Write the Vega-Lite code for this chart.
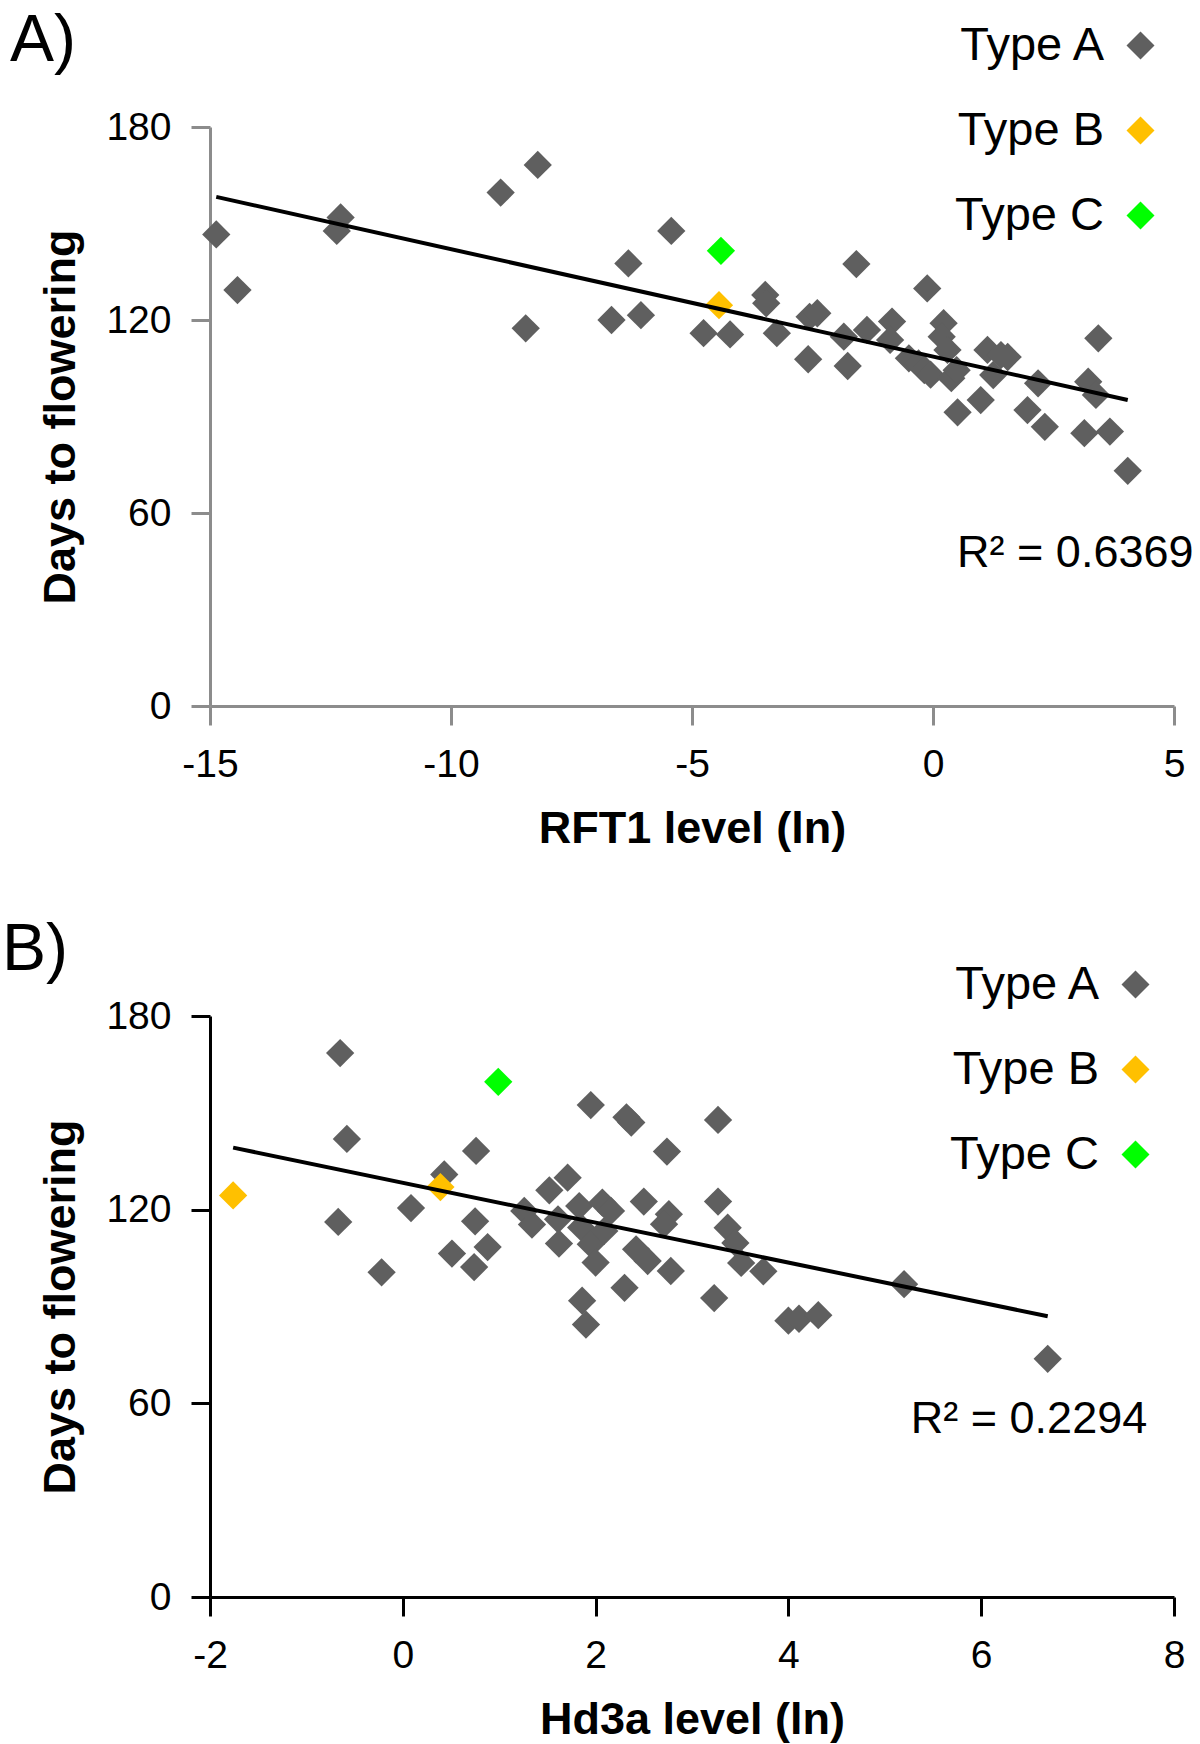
{
  "$schema": "https://vega.github.io/schema/vega-lite/v6.json",
  "background": "white",
  "padding": {"left": 2, "top": 8, "right": 5, "bottom": 2},
  "bounds": "flush",
  "spacing": 310,
  "config": {"font": "Liberation Sans", "view": {"stroke": null}},
  "resolve": {"scale": {"color": "independent"}, "legend": {"color": "independent"}},
  "datasets": {
    "a": [
      {"level": -14.87, "days": 146.6, "type": "Type A"},
      {"level": -14.43, "days": 129.3, "type": "Type A"},
      {"level": -12.29, "days": 151.9, "type": "Type A"},
      {"level": -12.37, "days": 147.7, "type": "Type A"},
      {"level": -8.97, "days": 159.6, "type": "Type A"},
      {"level": -8.2, "days": 168.2, "type": "Type A"},
      {"level": -8.45, "days": 117.4, "type": "Type A"},
      {"level": -5.43, "days": 147.7, "type": "Type A"},
      {"level": -6.32, "days": 137.6, "type": "Type A"},
      {"level": -6.67, "days": 120.0, "type": "Type A"},
      {"level": -6.06, "days": 121.5, "type": "Type A"},
      {"level": -4.76, "days": 115.9, "type": "Type A"},
      {"level": -4.21, "days": 115.5, "type": "Type A"},
      {"level": -3.48, "days": 127.8, "type": "Type A"},
      {"level": -3.46, "days": 125.2, "type": "Type A"},
      {"level": -3.24, "days": 115.9, "type": "Type A"},
      {"level": -2.59, "days": 107.8, "type": "Type A"},
      {"level": -2.56, "days": 121.0, "type": "Type A"},
      {"level": -2.4, "days": 122.1, "type": "Type A"},
      {"level": -1.77, "days": 105.7, "type": "Type A"},
      {"level": -1.85, "days": 114.8, "type": "Type A"},
      {"level": -1.59, "days": 137.4, "type": "Type A"},
      {"level": -1.37, "days": 116.9, "type": "Type A"},
      {"level": -0.85, "days": 119.5, "type": "Type A"},
      {"level": -0.89, "days": 113.8, "type": "Type A"},
      {"level": -0.5, "days": 108.1, "type": "Type A"},
      {"level": -0.3, "days": 106.5, "type": "Type A"},
      {"level": -0.12, "days": 129.8, "type": "Type A"},
      {"level": -0.18, "days": 104.4, "type": "Type A"},
      {"level": -0.05, "days": 103.0, "type": "Type A"},
      {"level": 0.22, "days": 119.0, "type": "Type A"},
      {"level": 0.18, "days": 114.8, "type": "Type A"},
      {"level": 0.3, "days": 110.7, "type": "Type A"},
      {"level": 0.38, "days": 101.9, "type": "Type A"},
      {"level": 0.49, "days": 104.4, "type": "Type A"},
      {"level": 0.51, "days": 91.3, "type": "Type A"},
      {"level": 1.13, "days": 110.7, "type": "Type A"},
      {"level": 1.41, "days": 109.1, "type": "Type A"},
      {"level": 1.55, "days": 108.5, "type": "Type A"},
      {"level": 1.25, "days": 102.9, "type": "Type A"},
      {"level": 0.99, "days": 95.1, "type": "Type A"},
      {"level": 1.96, "days": 92.0, "type": "Type A"},
      {"level": 2.18, "days": 100.3, "type": "Type A"},
      {"level": 2.32, "days": 86.8, "type": "Type A"},
      {"level": 3.22, "days": 100.8, "type": "Type A"},
      {"level": 3.38, "days": 96.7, "type": "Type A"},
      {"level": 3.14, "days": 84.8, "type": "Type A"},
      {"level": 3.67, "days": 85.3, "type": "Type A"},
      {"level": 3.43, "days": 114.3, "type": "Type A"},
      {"level": 4.04, "days": 73.1, "type": "Type A"},
      {"level": -4.44, "days": 124.6, "type": "Type B"},
      {"level": -4.4, "days": 141.5, "type": "Type C"}
    ],
    "b": [
      {"level": -0.65, "days": 168.5, "type": "Type A"},
      {"level": -0.58, "days": 141.9, "type": "Type A"},
      {"level": -0.67, "days": 116.2, "type": "Type A"},
      {"level": -0.22, "days": 100.6, "type": "Type A"},
      {"level": 0.085, "days": 120.5, "type": "Type A"},
      {"level": 0.43, "days": 130.9, "type": "Type A"},
      {"level": 0.76, "days": 138.2, "type": "Type A"},
      {"level": 0.75, "days": 116.4, "type": "Type A"},
      {"level": 0.51, "days": 106.4, "type": "Type A"},
      {"level": 0.88, "days": 108.4, "type": "Type A"},
      {"level": 0.74, "days": 102.2, "type": "Type A"},
      {"level": 1.95, "days": 152.4, "type": "Type A"},
      {"level": 2.32, "days": 148.6, "type": "Type A"},
      {"level": 2.37, "days": 147.0, "type": "Type A"},
      {"level": 2.74, "days": 138.0, "type": "Type A"},
      {"level": 1.71, "days": 129.9, "type": "Type A"},
      {"level": 1.52, "days": 126.0, "type": "Type A"},
      {"level": 1.26, "days": 119.6, "type": "Type A"},
      {"level": 1.34, "days": 115.4, "type": "Type A"},
      {"level": 1.61, "days": 117.0, "type": "Type A"},
      {"level": 1.83, "days": 121.1, "type": "Type A"},
      {"level": 2.07, "days": 122.2, "type": "Type A"},
      {"level": 2.16, "days": 119.6, "type": "Type A"},
      {"level": 2.5, "days": 122.5, "type": "Type A"},
      {"level": 2.76, "days": 118.6, "type": "Type A"},
      {"level": 2.71, "days": 115.5, "type": "Type A"},
      {"level": 1.62, "days": 109.5, "type": "Type A"},
      {"level": 1.85, "days": 114.5, "type": "Type A"},
      {"level": 1.95, "days": 109.3, "type": "Type A"},
      {"level": 2.09, "days": 113.4, "type": "Type A"},
      {"level": 2.0, "days": 103.6, "type": "Type A"},
      {"level": 2.42, "days": 107.7, "type": "Type A"},
      {"level": 2.54, "days": 104.1, "type": "Type A"},
      {"level": 2.78, "days": 101.0, "type": "Type A"},
      {"level": 2.3, "days": 95.8, "type": "Type A"},
      {"level": 1.86, "days": 91.8, "type": "Type A"},
      {"level": 1.9, "days": 84.4, "type": "Type A"},
      {"level": 3.27, "days": 147.8, "type": "Type A"},
      {"level": 3.27, "days": 122.5, "type": "Type A"},
      {"level": 3.37, "days": 114.4, "type": "Type A"},
      {"level": 3.45, "days": 109.7, "type": "Type A"},
      {"level": 3.51, "days": 103.5, "type": "Type A"},
      {"level": 3.74, "days": 100.9, "type": "Type A"},
      {"level": 3.23, "days": 92.6, "type": "Type A"},
      {"level": 4.0, "days": 85.6, "type": "Type A"},
      {"level": 4.11, "days": 86.2, "type": "Type A"},
      {"level": 4.31, "days": 87.3, "type": "Type A"},
      {"level": 5.2, "days": 96.9, "type": "Type A"},
      {"level": 6.69, "days": 73.8, "type": "Type A"},
      {"level": -1.76, "days": 124.4, "type": "Type B"},
      {"level": 0.39, "days": 127.0, "type": "Type B"},
      {"level": 0.99, "days": 159.6, "type": "Type C"}
    ]
  },
  "vconcat": [
    {
      "width": 964,
      "height": 579,
      "title": {"text": "A)", "anchor": "start", "frame": "group", "fontSize": 66, "fontWeight": "normal", "color": "black", "dx": -200, "dy": 80, "offset": 27},
      "data": {"name": "a"},
      "layer": [
        {
          "mark": {"type": "point", "shape": "diamond", "filled": true, "size": 800, "opacity": 1},
          "encoding": {
            "x": {"field": "level", "type": "quantitative", "scale": {"domain": [-15, 5], "nice": false, "zero": false},
              "axis": {"title": "RFT1 level (ln)", "values": [-15, -10, -5, 0, 5], "grid": false, "domainColor": "#8c8c8c", "domainWidth": 3, "tickColor": "#8c8c8c", "tickWidth": 3, "tickSize": 19, "labelFontSize": 39, "labelPadding": 20, "labelFlush": false, "labelColor": "black", "labelExpr": "datum.value < 0 ? '-' + abs(datum.value) : '' + datum.value", "titleFontSize": 45, "titleFontWeight": "bold", "titleColor": "black", "titlePadding": 22}},
            "y": {"field": "days", "type": "quantitative", "scale": {"domain": [0, 180], "nice": false},
              "axis": {"title": "Days to flowering", "values": [0, 60, 120, 180], "grid": false, "domainColor": "#8c8c8c", "domainWidth": 3, "tickColor": "#8c8c8c", "tickWidth": 3, "tickSize": 19, "labelFontSize": 39, "labelPadding": 20, "labelFlush": false, "labelColor": "black", "titleFontSize": 45, "titleFontWeight": "bold", "titleColor": "black", "titlePadding": 22}},
            "color": {"field": "type", "type": "nominal",
              "scale": {"domain": ["Type A", "Type B", "Type C"], "range": ["#5f5f5f", "#ffc000", "#00ff00"]},
              "legend": {"title": null, "orient": "none", "legendX": 907, "legendY": -105, "direction": "vertical", "symbolType": "diamond", "symbolSize": 784, "symbolStrokeWidth": 0, "symbolOpacity": 1, "labelFontSize": 47, "labelColor": "black", "labelAlign": "right", "labelOffset": -60, "rowPadding": 37, "padding": 0, "labelLimit": 0}}
          }
        },
        {
          "transform": [{"regression": "days", "on": "level"}],
          "mark": {"type": "line", "color": "black", "strokeWidth": 4},
          "encoding": {
            "x": {"field": "level", "type": "quantitative"},
            "y": {"field": "days", "type": "quantitative"}
          }
        },
        {
          "data": {"values": [{}]},
          "mark": {"type": "text", "align": "left", "baseline": "middle", "fontSize": 45, "color": "black"},
          "encoding": {
            "x": {"datum": 0.5},
            "y": {"datum": 47.6},
            "text": {"value": "R² = 0.6369"}
          }
        }
      ]
    },
    {
      "width": 964,
      "height": 581,
      "title": {"text": "B)", "anchor": "start", "frame": "group", "fontSize": 66, "fontWeight": "normal", "color": "black", "dx": -208, "dy": 32, "offset": 9},
      "data": {"name": "b"},
      "layer": [
        {
          "mark": {"type": "point", "shape": "diamond", "filled": true, "size": 800, "opacity": 1},
          "encoding": {
            "x": {"field": "level", "type": "quantitative", "scale": {"domain": [-2, 8], "nice": false, "zero": false},
              "axis": {"title": "Hd3a level (ln)", "values": [-2, 0, 2, 4, 6, 8], "grid": false, "domainColor": "black", "domainWidth": 3, "tickColor": "black", "tickWidth": 3, "tickSize": 19, "labelFontSize": 39, "labelPadding": 20, "labelFlush": false, "labelColor": "black", "labelExpr": "datum.value < 0 ? '-' + abs(datum.value) : '' + datum.value", "titleFontSize": 45, "titleFontWeight": "bold", "titleColor": "black", "titlePadding": 22}},
            "y": {"field": "days", "type": "quantitative", "scale": {"domain": [0, 180], "nice": false},
              "axis": {"title": "Days to flowering", "values": [0, 60, 120, 180], "grid": false, "domainColor": "black", "domainWidth": 3, "tickColor": "black", "tickWidth": 3, "tickSize": 19, "labelFontSize": 39, "labelPadding": 20, "labelFlush": false, "labelColor": "black", "titleFontSize": 45, "titleFontWeight": "bold", "titleColor": "black", "titlePadding": 22}},
            "color": {"field": "type", "type": "nominal",
              "scale": {"domain": ["Type A", "Type B", "Type C"], "range": ["#5f5f5f", "#ffc000", "#00ff00"]},
              "legend": {"title": null, "orient": "none", "legendX": 902, "legendY": -55, "direction": "vertical", "symbolType": "diamond", "symbolSize": 784, "symbolStrokeWidth": 0, "symbolOpacity": 1, "labelFontSize": 47, "labelColor": "black", "labelAlign": "right", "labelOffset": -60, "rowPadding": 37, "padding": 0, "labelLimit": 0}}
          }
        },
        {
          "transform": [{"regression": "days", "on": "level"}],
          "mark": {"type": "line", "color": "black", "strokeWidth": 4},
          "encoding": {
            "x": {"field": "level", "type": "quantitative"},
            "y": {"field": "days", "type": "quantitative"}
          }
        },
        {
          "data": {"values": [{}]},
          "mark": {"type": "text", "align": "left", "baseline": "middle", "fontSize": 45, "color": "black"},
          "encoding": {
            "x": {"datum": 5.27},
            "y": {"datum": 55},
            "text": {"value": "R² = 0.2294"}
          }
        }
      ]
    }
  ]
}
